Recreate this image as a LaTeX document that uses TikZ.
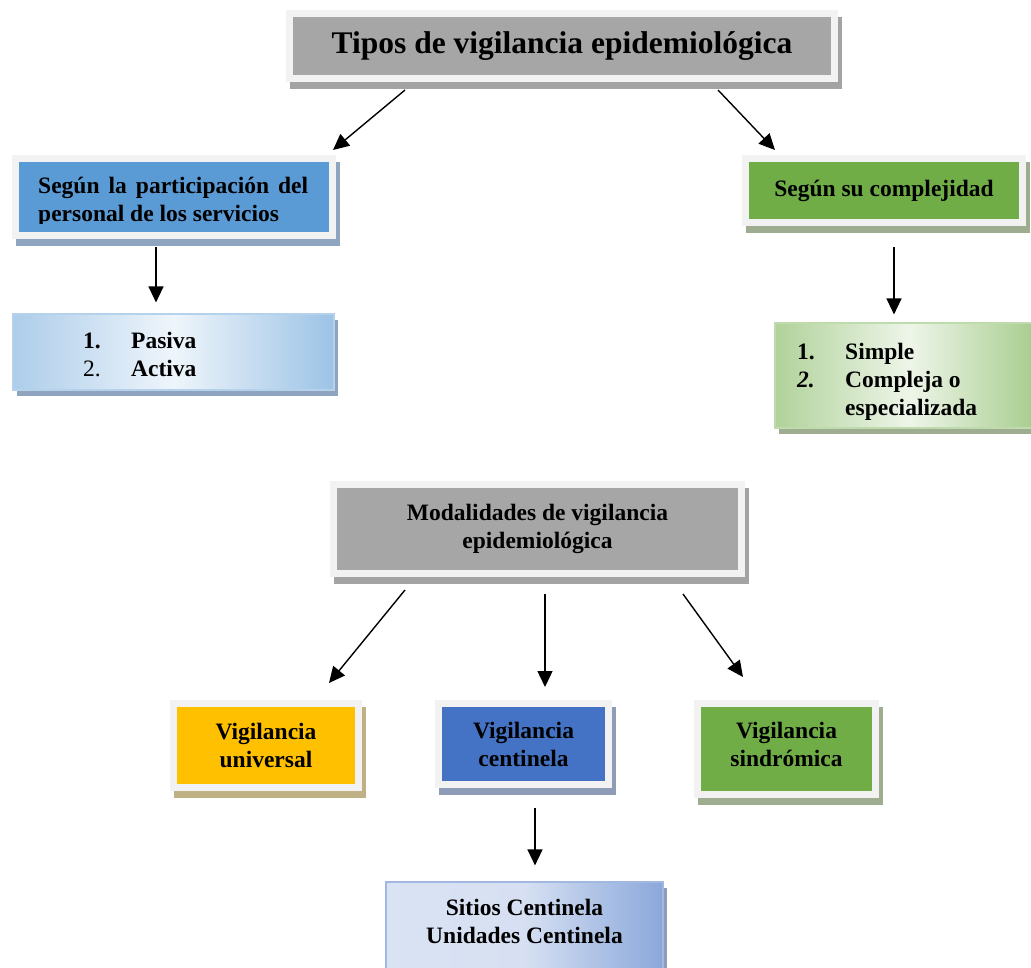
\documentclass[tikz,border=0pt]{standalone}
\usepackage{fontspec}
\setmainfont{Liberation Serif}
\usetikzlibrary{arrows.meta,calc}

\definecolor{framegray}{HTML}{F2F2F2}
\definecolor{titlegray}{HTML}{A6A6A6}
\definecolor{titleshadow}{HTML}{A3A3A3}
\definecolor{partblue}{HTML}{5B9BD5}
\definecolor{partshadow}{HTML}{8FA4BF}
\definecolor{compgreen}{HTML}{70AD47}
\definecolor{compshadow}{HTML}{9EAD8F}
\definecolor{univyellow}{HTML}{FFC000}
\definecolor{univshadow}{HTML}{BFB183}
\definecolor{centblue}{HTML}{4472C4}
\definecolor{centshadow}{HTML}{8E9CB8}

\tikzset{
  boxfont/.style={font=\fontsize{23.5}{28}\selectfont\bfseries},
  framedbox/.style 2 args={draw=framegray, line width=7pt, fill=#1,
    preaction={draw=#2, fill=#2, transform canvas={xshift=4pt, yshift=-7pt}},
    inner sep=0pt, align=center, boxfont},
  gradbox/.style n args={5}{draw=#1, line width=1.2pt, left color=#2, right color=#4, middle color=#3,
    preaction={fill=#5, transform canvas={xshift=4pt, yshift=-6pt}}, inner sep=0pt},
  listtext/.style={inner sep=0pt, boxfont},
  arrow/.style={-{Triangle[length=16pt,width=15pt]}, line width=1.4pt}
}

\begin{document}
\begin{tikzpicture}[x=1pt, y=-1pt]
 \useasboundingbox (0,0) rectangle (1031,967);
 \clip (0,0) rectangle (1031,967);
 % tipos
 \node[framedbox={titlegray}{titleshadow}, minimum width=545pt, minimum height=65pt,
   font=\fontsize{31.5}{36}\selectfont\bfseries] (tipos) at (562,46) {Tipos de vigilancia epidemiológica};
 \node[framedbox={partblue}{partshadow}, minimum width=317pt, minimum height=77pt] (particip) at (174,197) {};
 \begin{scope}
  \clip (19,162) rectangle (329,223);
  \node[listtext, anchor=base west] (partictext) at (38,193)
   {\begin{tabular}[t]{@{}l@{}}\makebox[270pt][s]{Según la participación del}\\ personal de los servicios\end{tabular}};
 \end{scope}
 \node[framedbox={compgreen}{compshadow}, minimum width=277pt, minimum height=64pt] (compl) at (884,190.5) {Según su complejidad};
 \node[gradbox={partblue!45}{partblue!50}{partblue!10}{partblue!60}{partshadow}, minimum width=321pt, minimum height=76pt] (pasiva) at (173.5,352) {};
 \node[listtext, anchor=base west] (pasivalist) at (83,348)
  {\begin{tabular}[t]{@{}p{48pt}@{}l@{}}1. & Pasiva\\ \mdseries 2. & Activa\end{tabular}};
 \node[gradbox={compgreen!45}{compgreen!55}{compgreen!12}{compgreen!65}{compshadow}, minimum width=270pt, minimum height=105pt] (simple) at (910,375.5) {};
 \node[listtext, anchor=base west] (simplelist) at (797,359)
  {\begin{tabular}[t]{@{}p{48pt}@{}l@{}}1. & Simple\\ \textit{2.} & Compleja o\\ & especializada\end{tabular}};
 % modalidades
 \node[framedbox={titlegray}{titleshadow}, minimum width=408pt, minimum height=89pt] (modal) at (537.5,529) {Modalidades de vigilancia\\ epidemiológica};
 \node[framedbox={univyellow}{univshadow}, minimum width=185pt, minimum height=84pt] (univ) at (266,745.5) {Vigilancia\\ universal};
 \node[framedbox={centblue}{centshadow}, minimum width=170pt, minimum height=81pt] (cent) at (523.5,744) {Vigilancia\\ centinela};
 \node[framedbox={compgreen}{compshadow}, minimum width=178pt, minimum height=91pt, text depth=9pt] (sind) at (786.5,749) {Vigilancia\\ sindrómica};
 \node[gradbox={centblue!50}{centblue!20}{centblue!22}{centblue!62}{centshadow}, minimum width=277pt, minimum height=108pt,
   boxfont, align=center, text depth=30pt] (sitios) at (524.5,936) {Sitios Centinela\\ Unidades Centinela};
 % arrows
 \draw[arrow] ($(tipos.south)+(-157,8)$) -- ($(particip.north east)+(-3,-5)$);
 \draw[arrow] ($(tipos.south)+(156,8)$) -- ($(compl.north)+(-109,-5)$);
 \draw[arrow] ($(particip.south)+(-18,8)$) -- ($(pasiva.north)+(-17.5,-11)$);
 \draw[arrow] ($(compl.south)+(10,21)$) -- ($(simple.north)+(-16,-8)$);
 \draw[arrow] ($(modal.south)+(-132.5,13)$) -- ($(univ.north)+(63,-17)$);
 \draw[arrow] ($(modal.south)+(7.5,17)$) -- ($(cent.north)+(21.5,-13)$);
 \draw[arrow] ($(modal.south)+(145.5,17)$) -- ($(sind.north)+(-43.5,-23)$);
 \draw[arrow] ($(cent.south)+(11.5,20)$) -- ($(sitios.north)+(10.5,-16)$);
\end{tikzpicture}
\end{document}
